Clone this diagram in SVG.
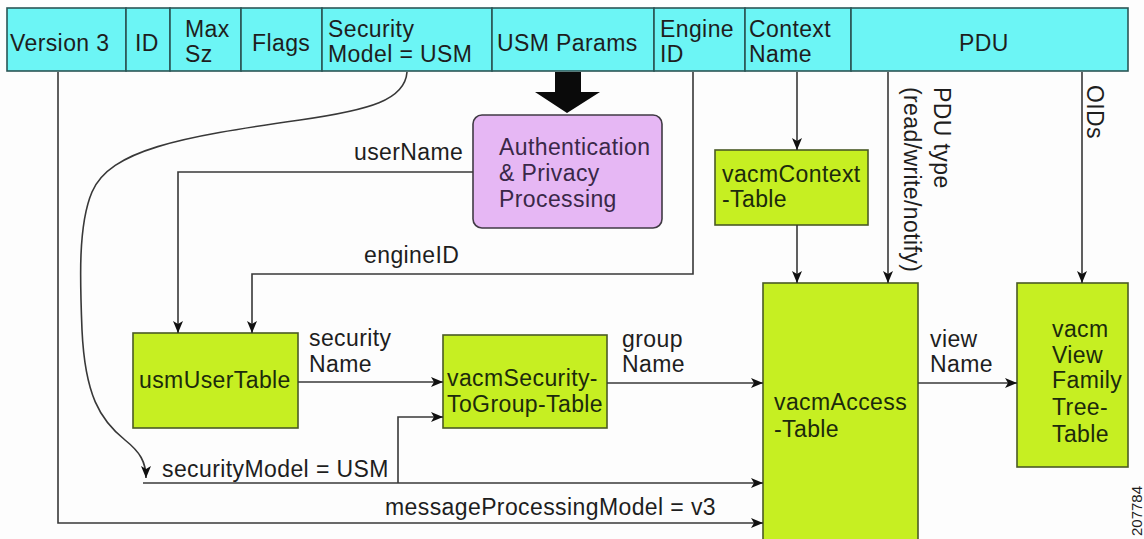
<svg xmlns="http://www.w3.org/2000/svg" width="1144" height="539" viewBox="0 0 1144 539">
<style>
text{font-family:"Liberation Sans",Arial,sans-serif;font-size:23px;letter-spacing:0.4px;fill:#1e1e1e}
.hdr{fill:#6cf5f5;stroke:#2b5656;stroke-width:1.6}
.grn{fill:#c6ef22;stroke:#4a5a26;stroke-width:1.6}
.grn-t{fill:#1c2a0c}
.auth{fill:#e6b7f4;stroke:#403a44;stroke-width:1.6}
.auth-t{fill:#3a2848}
.ln{fill:none;stroke:#383838;stroke-width:1.6}
.arr{marker-end:url(#ah)}
.fig{font-size:15px;letter-spacing:0}
</style>
<defs>
<marker id="ah" viewBox="0 0 12 10" markerWidth="12" markerHeight="10" refX="12" refY="5" orient="auto" markerUnits="userSpaceOnUse">
<path d="M0,0 L12,5 L0,10 L3,5 z" fill="#111"/>
</marker>
</defs>
<rect width="1144" height="539" fill="#fdfdfd"/>

<g id="header">
<g id="h-version"><rect class="hdr" x="7" y="8" width="119" height="63"/><text x="10" y="51">Version 3</text></g>
<g id="h-id"><rect class="hdr" x="126" y="8" width="44" height="63"/><text x="135" y="51">ID</text></g>
<g id="h-maxsz"><rect class="hdr" x="170" y="8" width="71" height="63"/><text x="185" y="37">Max</text><text x="185" y="62">Sz</text></g>
<g id="h-flags"><rect class="hdr" x="241" y="8" width="81" height="63"/><text x="252" y="51">Flags</text></g>
<g id="h-secmodel"><rect class="hdr" x="322" y="8" width="170" height="63"/><text x="328" y="37">Security</text><text x="328" y="62">Model = USM</text></g>
<g id="h-usmparams"><rect class="hdr" x="492" y="8" width="162" height="63"/><text x="497" y="51">USM Params</text></g>
<g id="h-engineid"><rect class="hdr" x="654" y="8" width="91" height="63"/><text x="660" y="37">Engine</text><text x="660" y="62">ID</text></g>
<g id="h-context"><rect class="hdr" x="745" y="8" width="106" height="63"/><text x="749" y="37">Context</text><text x="749" y="62">Name</text></g>
<g id="h-pdu"><rect class="hdr" x="851" y="8" width="277" height="63"/><text x="984" y="51" text-anchor="middle">PDU</text></g>
</g>

<g id="auth">
<rect class="auth" x="473" y="115" width="189" height="113" rx="9"/>
<text class="auth-t" x="499" y="155">Authentication</text>
<text class="auth-t" x="499" y="181">&amp; Privacy</text>
<text class="auth-t" x="499" y="207">Processing</text>
</g>

<g id="vacmContextTable">
<rect class="grn" x="715" y="150" width="153" height="75"/>
<text class="grn-t" x="722" y="182">vacmContext</text>
<text class="grn-t" x="722" y="207">-Table</text>
</g>

<g id="usmUserTable">
<rect class="grn" x="133" y="333" width="165" height="95"/>
<text class="grn-t" x="139" y="388">usmUserTable</text>
</g>

<g id="vacmSecurityToGroupTable">
<rect class="grn" x="443" y="335" width="164" height="93"/>
<text class="grn-t" x="447" y="386">vacmSecurity-</text>
<text class="grn-t" x="447" y="412">ToGroup-Table</text>
</g>

<g id="vacmAccessTable">
<rect class="grn" x="763" y="283" width="155" height="265"/>
<text class="grn-t" x="774" y="410">vacmAccess</text>
<text class="grn-t" x="774" y="437">-Table</text>
</g>

<g id="vacmViewTreeFamilyTable">
<rect class="grn" x="1017" y="283" width="111" height="184"/>
<text class="grn-t" x="1052" y="337">vacm</text>
<text class="grn-t" x="1052" y="363">View</text>
<text class="grn-t" x="1052" y="388">Family</text>
<text class="grn-t" x="1052" y="415">Tree-</text>
<text class="grn-t" x="1052" y="442">Table</text>
</g>

<g id="connectors">
<polygon points="555,72 581,72 581,92 600,92 567,113 535,92 555,92" fill="#0a0a0a"/>
<path class="ln arr" d="M58,72 V523 H763"/>
<path class="ln arr" d="M407,72 C405,100 370,110 300,120 C180,137 110,150 92,192 C78,225 80,280 82,330 C85,395 100,420 125,440 C140,452 146,462 146,478"/>
<path class="ln arr" d="M143,483 H763"/>
<path class="ln arr" d="M398,483 V417 H443"/>
<path class="ln arr" d="M473,172 H178 V333"/>
<path class="ln arr" d="M693,72 V274 H252 V333"/>
<path class="ln arr" d="M298,382 H443"/>
<path class="ln arr" d="M607,383 H763"/>
<path class="ln arr" d="M918,383 H1017"/>
<path class="ln arr" d="M797,72 V150"/>
<path class="ln arr" d="M797,225 V283"/>
<path class="ln arr" d="M888,72 V283"/>
<path class="ln arr" d="M1082,72 V283"/>
</g>

<g id="labels">
<text x="354" y="160">userName</text>
<text x="364" y="263">engineID</text>
<text x="309" y="346">security</text>
<text x="309" y="372">Name</text>
<text x="622" y="347">group</text>
<text x="622" y="372">Name</text>
<text x="930" y="347">view</text>
<text x="930" y="372">Name</text>
<text x="162" y="477">securityModel = USM</text>
<text x="385" y="515">messageProcessingModel = v3</text>
<text transform="translate(934,87) rotate(90)">PDU type</text>
<text transform="translate(904,87) rotate(90)">(read/write/notify)</text>
<text transform="translate(1087,85) rotate(90)">OIDs</text>
<text class="fig" transform="translate(1142,536) rotate(-90)">207784</text>
</g>
</svg>
